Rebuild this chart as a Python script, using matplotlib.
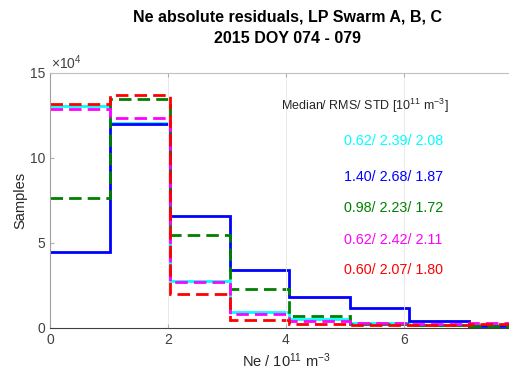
import numpy as np
import matplotlib
matplotlib.use("Agg")
import matplotlib.pyplot as plt
from matplotlib.ticker import FuncFormatter

plt.rcParams['font.family'] = ['Liberation Sans', 'DejaVu Sans']
plt.rcParams['mathtext.fontset'] = 'custom'
plt.rcParams['mathtext.rm'] = 'Liberation Sans'
plt.rcParams['mathtext.it'] = 'Liberation Sans:italic'

# histogram bin edges (Ne, 1e11 m^-3)
edges = [0, 1.02, 2.03, 3.05, 4.06, 5.08, 6.09, 7.11, 8.12]

# counts per bin, in units of 1e4 samples
cyan_counts = [13.03, 12.05, 2.79, 0.92, 0.51, 0.29, 0.20, 0.15]
blue_counts = [4.49, 12.0, 6.61, 3.42, 1.84, 1.16, 0.41, 0.14]
green_counts = [7.64, 13.47, 5.44, 2.32, 0.71, 0.24, 0.15, 0.10]
magenta_counts = [12.9, 12.37, 2.73, 0.81, 0.43, 0.31, 0.25, 0.28]
red_counts = [13.17, 13.72, 1.98, 0.47, 0.24, 0.18, 0.15, 0.24]

stats_labels = ["0.62/ 2.39/ 2.08", "1.40/ 2.68/ 1.87", "0.98/ 2.23/ 1.72",
                "0.62/ 2.42/ 2.11", "0.60/ 2.07/ 1.80"]

series = [
    (cyan_counts, '#00ffff', '-'),
    (blue_counts, '#0000ff', '-'),
    (green_counts, '#008000', (0, (4.5, 2.2))),
    (magenta_counts, '#ff00ff', (0, (4.5, 2.2))),
    (red_counts, '#ff0000', (0, (4.5, 2.2))),
]

fig = plt.figure(figsize=(5.09, 3.79), dpi=100)
ax = fig.add_axes([0.0982, 0.1346, 0.927, 0.673])

for counts, col, ls in series:
    ax.stairs(np.array(counts) * 1e4, edges, baseline=None,
              color=col, linestyle=ls, linewidth=2.0)

ax.set_xlim(0, 8)
ax.set_ylim(0, 15e4)
ax.set_xticks([0, 2, 4, 6])
ax.set_yticks([0, 5e4, 10e4, 15e4])
ax.yaxis.set_major_formatter(FuncFormatter(lambda v, p: f'{v / 1e4:g}'))
ax.text(0.003, 1.005, r'$\times10^{4}$', transform=ax.transAxes, fontsize=10,
        color='#404040', ha='left', va='bottom')

ax.grid(axis='x', color='#e6e6e6', linewidth=0.6)
ax.tick_params(direction='in', labelsize=10, colors='#404040', length=3,
               top=True, right=False)
ax.tick_params(axis='both', which='both', color='#b0b0b0')
ax.spines['left'].set_color('#a0a0a0')
ax.spines['top'].set_color('#c0c0c0')
ax.spines['bottom'].set_color('#404040')
ax.spines['right'].set_visible(False)
for s in ax.spines.values():
    s.set_linewidth(0.8)

ax.set_ylabel('Samples', fontsize=10.5, color='#262626', labelpad=2)
ax.set_xlabel('Ne / 10$^{11}$ m$^{-3}$', fontsize=10.5, color='#262626', labelpad=3)

fig.text(0.564, 0.975, 'Ne absolute residuals, LP Swarm A, B, C\n2015 DOY 074 - 079',
         ha='center', va='top', fontsize=11.5, fontweight='bold', linespacing=1.55)

ax.text(0.49, 0.87, 'Median/ RMS/ STD [10$^{11}$ m$^{-3}$]', transform=ax.transAxes,
        fontsize=9, color='#262626', va='center', ha='left')
ys = [0.733, 0.592, 0.47, 0.345, 0.227]
for lbl, (counts, col, ls), y in zip(stats_labels, series, ys):
    ax.text(0.623, y, lbl, transform=ax.transAxes, fontsize=10.3, color=col,
            va='center', ha='left')

fig.savefig('out.png', dpi=100)
